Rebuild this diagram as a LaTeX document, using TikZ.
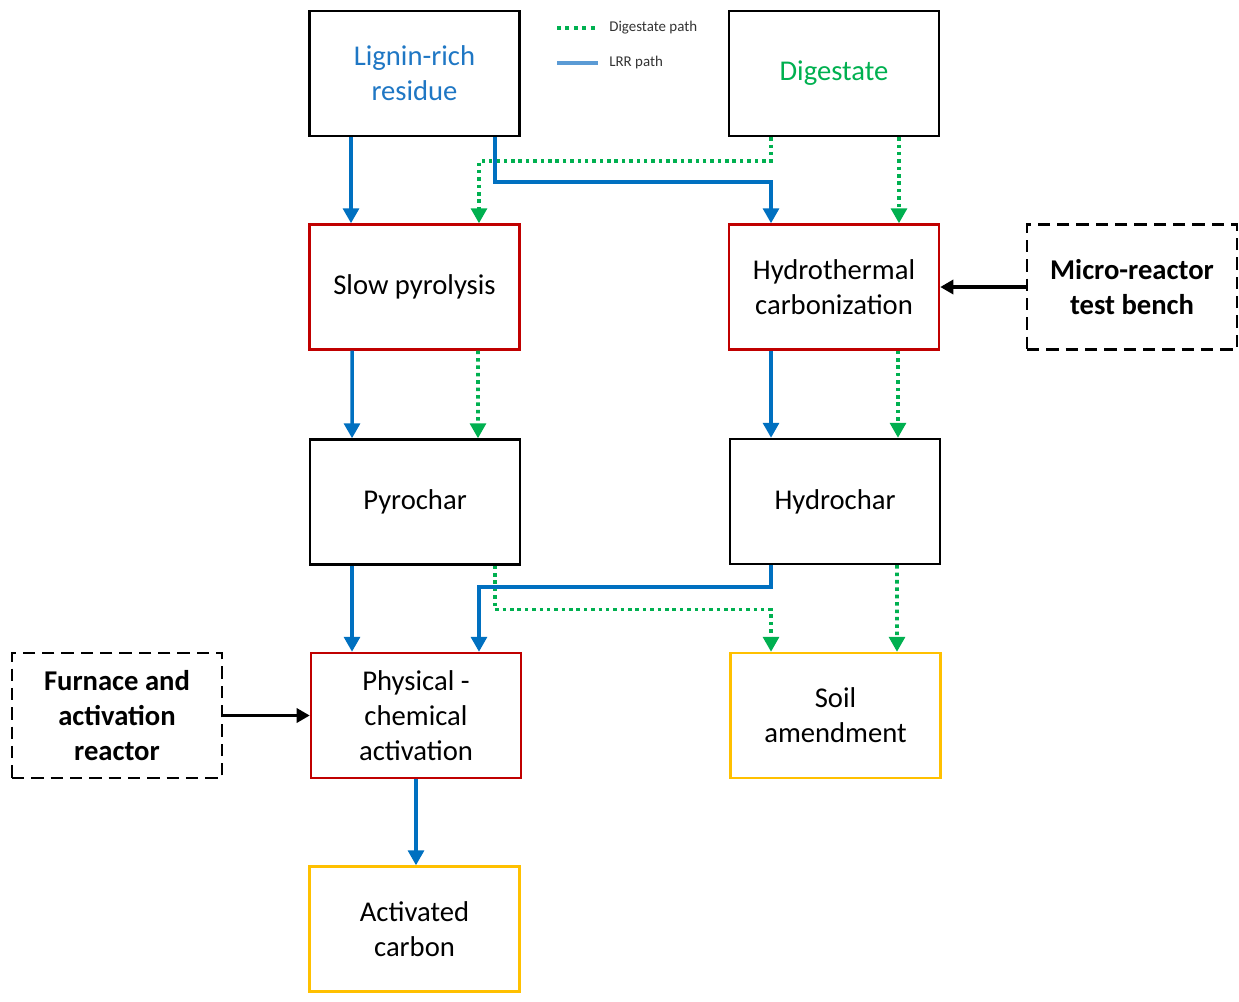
\documentclass[tikz,border=0pt]{standalone}
\usepackage{fontspec}
\setmainfont{Carlito}
\usepackage{tikz}
\usetikzlibrary{arrows.meta}
\usetikzlibrary{positioning}
\definecolor{lrrblue}{RGB}{0,112,192}
\definecolor{lrrtext}{RGB}{31,119,196}
\definecolor{legblue}{RGB}{91,155,213}
\definecolor{diggreen}{RGB}{0,176,80}
\definecolor{procred}{RGB}{192,0,0}
\definecolor{prodyellow}{RGB}{255,192,0}
\tikzset{
	box/.style={draw, line width=1.4pt, minimum width=4.2cm, minimum height=2.5cm, align=center, font=\fontsize{16.3}{20}\selectfont},
	feedbox/.style={box, draw=black},
	procbox/.style={box, draw=procred},
	prodbox/.style={box, draw=prodyellow},
	toolbox/.style={box, draw=black, line width=1.4pt, dash pattern=on 7pt off 4pt, font=\fontsize{16.3}{20}\selectfont\bfseries},
	lrr/.style={draw=lrrblue, line width=2pt, -{Triangle[width=9pt,length=8.5pt]}},
	dig/.style={draw=diggreen, line width=2pt, dash pattern=on 2pt off 2.2pt, -{Triangle[width=9pt,length=8.5pt]}},
	tool/.style={draw=black, line width=1.9pt, -{Triangle[width=8pt,length=7.5pt]}},
	legtext/.style={anchor=west, inner sep=0pt, text=black!80, font=\fontsize{8.5}{10}\selectfont}
}

\begin{document}
\begin{tikzpicture}[x=0.02cm, y=-0.02cm]
	\useasboundingbox (0,0) rectangle (1239,1001);
	\node[feedbox, text=lrrtext] (res) at (414.5,73.5) {Lignin-rich\\residue};
	\node[feedbox, text=diggreen] (dige) at (834,73.5) {Digestate};
	\node[procbox] (pyro) at (414.5,287) {Slow pyrolysis};
	\node[procbox] (htc) at (834,287) {Hydrothermal\\carbonization};
	\node[toolbox] (bench) at (1132,287) {Micro-reactor\\test bench};
	\node[feedbox] (pchar) at (415,502) {Pyrochar};
	\node[feedbox] (hchar) at (835,501.5) {Hydrochar};
	\node[procbox] (activ) at (416,715.5) {Physical -\\chemical\\activation};
	\node[prodbox] (soil) at (835.5,715.5) {Soil\\amendment};
	\node[toolbox] (furn) at (117,715.5) {Furnace and\\activation\\reactor};
	\node[prodbox] (carb) at (414.5,929) {Activated\\carbon};

	\draw[diggreen, line width=2pt, dash pattern=on 2.2pt off 2.6pt] (557,28) -- (598,28);
	\node[legtext] (legdig) at (609,28) {Digestate path};
	\draw[legblue, line width=2.6pt] (557,63) -- (598,63);
	\node[legtext] (leglrr) at (609,63) {LRR path};

	\draw[dig] ([xshift=-1.26cm]dige.south) -- ++(0cm,-0.48cm) -| ([xshift=1.29cm]pyro.north);
	\draw[lrr] ([xshift=-1.27cm]res.south) -- ([xshift=-1.27cm]pyro.north);
	\draw[lrr] ([xshift=1.61cm]res.south) -- ++(0cm,-0.9cm) -| ([xshift=-1.26cm]htc.north);
	\draw[dig] ([xshift=1.3cm]dige.south) -- ([xshift=1.3cm]htc.north);

	\draw[lrr] ([xshift=-1.25cm]pyro.south) -- ([xshift=-1.26cm]pchar.north);
	\draw[dig] ([xshift=1.27cm]pyro.south) -- ([xshift=1.26cm]pchar.north);
	\draw[lrr] ([xshift=-1.26cm]htc.south) -- ([xshift=-1.28cm]hchar.north);
	\draw[dig] ([xshift=1.28cm]htc.south) -- ([xshift=1.26cm]hchar.north);
	\draw[tool] (bench.west) -- (htc.east);

	\draw[dig] ([xshift=1.6cm]pchar.south) -- ++(0cm,-0.88cm) -| ([xshift=-1.29cm]soil.north);
	\draw[lrr] ([xshift=-1.26cm]pchar.south) -- ([xshift=-1.28cm]activ.north);
	\draw[lrr] ([xshift=-1.28cm]hchar.south) -- ++(0cm,-0.44cm) -| ([xshift=1.26cm]activ.north);
	\draw[dig] ([xshift=1.24cm]hchar.south) -- ([xshift=1.23cm]soil.north);
	\draw[tool] (furn.east) -- (activ.west);

	\draw[lrr] (activ.south) -- (activ.south |- carb.north);
\end{tikzpicture}
\end{document}
